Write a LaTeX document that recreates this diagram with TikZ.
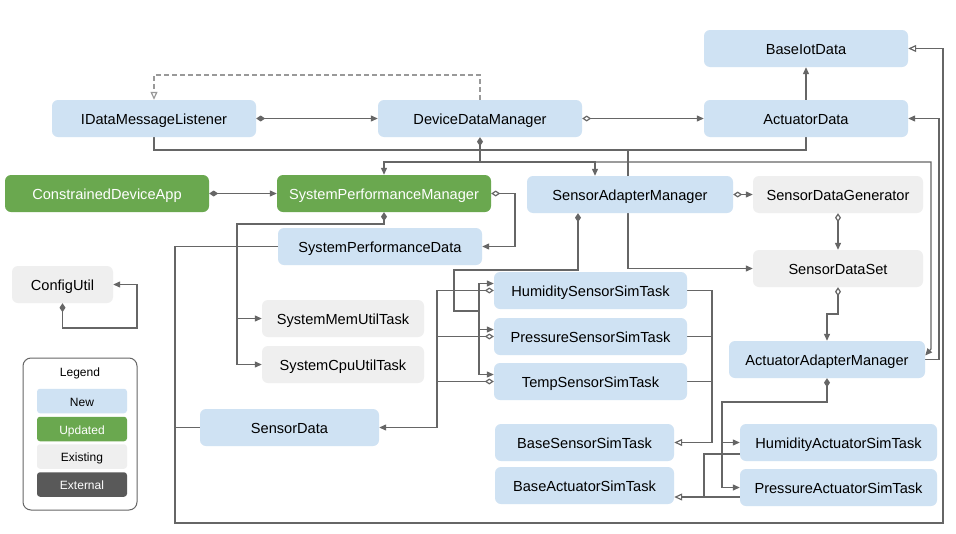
\documentclass[tikz,border=0pt]{standalone}
\usepackage{fontspec}
\setmainfont{Liberation Sans}
\usetikzlibrary{arrows.meta}
\definecolor{nb}{HTML}{CFE2F3}
\definecolor{ug}{HTML}{6AA84F}
\definecolor{ex}{HTML}{EFEFEF}
\definecolor{xt}{HTML}{595959}
\definecolor{ln}{HTML}{666666}
\definecolor{lnl}{HTML}{999999}
\pgfdeclarelayer{bg}
\pgfsetlayers{bg,main}
\tikzset{
  box/.style={rounded corners=6pt, minimum height=37pt, inner sep=0pt, text height=12.5pt, text depth=0.5pt, font=\fontsize{14.6}{17}\selectfont, text=black},
  newb/.style={box, fill=nb},
  updb/.style={box, fill=ug, text=white},
  exb/.style={box, fill=ex},
  lgb/.style={rounded corners=3pt, minimum width=90pt, minimum height=24.5pt, inner sep=0pt, text height=10.5pt, text depth=0.5pt, font=\fontsize{12}{14}\selectfont},
  con/.style={draw=ln, line width=1.2pt},
  dmfa/.style={arrows={Diamond[length=9pt,width=6pt]-Triangle[length=7pt,width=6pt]}},
  dmoa/.style={arrows={Diamond[open,length=9pt,width=6pt]-Triangle[length=7pt,width=6pt]}},
  dmo/.style={arrows={Diamond[open,length=9pt,width=6pt]-}},
  ta/.style={arrows={-Triangle[length=7pt,width=6pt]}},
  ot/.style={arrows={-Triangle[open,length=8pt,width=7pt]}},
}
\begin{document}
\begin{tikzpicture}[x=1pt,y=-1pt]
\useasboundingbox (0,0) rectangle (956,533);
% nodes
\node[newb,minimum width=204pt] (biot) at (806,48.5) {BaseIotData};
\node[newb,minimum width=204pt] (idml) at (154,118.5) {IDataMessageListener};
\node[newb,minimum width=204pt] (dmm) at (480,118.5) {DeviceDataManager};
\node[newb,minimum width=204pt] (ad) at (806,118.5) {ActuatorData};
\node[updb,minimum width=204pt] (cda) at (107,193.5) {ConstrainedDeviceApp};
\node[updb,minimum width=214pt] (spm) at (384,193.5) {SystemPerformanceManager};
\node[newb,minimum width=206pt] (sam) at (630,194.5) {SensorAdapterManager};
\node[exb,minimum width=170pt] (sdg) at (838,194.5) {SensorDataGenerator};
\node[newb,minimum width=204pt] (spd) at (380,246.5) {SystemPerformanceData};
\node[exb,minimum width=170pt] (sds) at (838,268.5) {SensorDataSet};
\node[exb,minimum width=101pt] (cu) at (62.5,284.5) {ConfigUtil};
\node[newb,minimum width=193pt] (hsst) at (590.5,290.5) {HumiditySensorSimTask};
\node[exb,minimum width=162pt] (smu) at (343,318.5) {SystemMemUtilTask};
\node[newb,minimum width=193pt] (psst) at (590.5,336.5) {PressureSensorSimTask};
\node[exb,minimum width=162pt] (scu) at (343,364.5) {SystemCpuUtilTask};
\node[newb,minimum width=196pt] (aam) at (827,359.5) {ActuatorAdapterManager};
\node[newb,minimum width=193pt] (tsst) at (590.5,381.5) {TempSensorSimTask};
\node[newb,minimum width=179pt] (sd) at (289.5,427.5) {SensorData};
\node[newb,minimum width=179pt] (bsst) at (584.5,442.5) {BaseSensorSimTask};
\node[newb,minimum width=197pt] (hast) at (838.5,442.5) {HumidityActuatorSimTask};
\node[newb,minimum width=179pt] (bast) at (584.5,485.5) {BaseActuatorSimTask};
\node[newb,minimum width=197pt] (past) at (838.5,487.5) {PressureActuatorSimTask};
% legend
\node[draw=ln, line width=1pt, rounded corners=8pt, minimum width=114pt, minimum height=152pt, inner sep=0pt] (leg) at (80,434) {};
\node[font=\fontsize{12}{14}\selectfont, inner sep=0pt, text height=10.5pt, text depth=0.5pt] (legt) at (80,371.5) {Legend};
\node[lgb, fill=nb] (l1) at (82,401) {New};
\node[lgb, fill=ug, text=white] (l2) at (82,429) {Updated};
\node[lgb, fill=ex] (l3) at (82,456.5) {Existing};
\node[lgb, fill=xt, text=white] (l4) at (82,484.5) {External};
% junctions
\coordinate (j1) at (480,162);
\coordinate (j2) at (628,150);
\coordinate (j3) at (175,427.5);
\coordinate (j4) at (237,318.5);
\coordinate (j5) at (479,311);
\coordinate (j6) at (479,329.5);
\coordinate (j7) at (437,336.5);
\coordinate (j8) at (437,381.5);
\coordinate (j9) at (712,336.5);
\coordinate (j10) at (712,381.5);
\coordinate (j11) at (722,442.5);
\coordinate (j12) at (704,497);
\begin{pgfonlayer}{bg}
\fill[white] (0,0) rectangle (956,533);
\draw[con,draw=lnl,dash pattern=on 5pt off 3pt,ot] (dmm.north) -- (480,75) -- (154,75) -- (idml.north);
\draw[con,dmfa] (idml.east) -- (dmm.west);
\draw[con,dmoa] (dmm.east) -- (ad.west);
\draw[con,ta] (ad.north) -- (biot.south);
\draw[con] (idml.south) -- (154,150) -- (j2);
\draw[con,ta] (ad.south) -- (806,150) -- (j2) -- (628,268.5) -- (sds.west);
\draw[con,dmfa] (dmm.south) -- (j1) -- (384,162) -- (spm.north);
\draw[con,ta] (j1) -- (595,162) -- ([xshift=-35pt]sam.north);
\draw[con,ta] (j1) -- (931,162) -- (931,349) -- ([yshift=4pt]aam.east);
\draw[con,ta] (aam.east) -- (939,359.5) -- (939,118.5) -- (ad.east);
\draw[con,ot] (spd.west) -- (175,246.5) -- (175,523) -- (943,523) -- (943,48.5) -- (biot.east);
\draw[con] (sd.west) -- (j3);
\draw[con,dmfa] (cda.east) -- (spm.west);
\draw[con,dmoa] (spm.east) -- (515,193.5) -- (515,246.5) -- (spd.east);
\draw[con,dmfa] (spm.south) -- (384,224) -- (237,224) -- (j4) -- (smu.west);
\draw[con,ta] (j4) -- (237,364.5) -- (scu.west);
\draw[con,dmfa] ([xshift=-52pt]sam.south) -- (578,270) -- (454,270) -- (454,311) -- (j5) -- (479,283.5) -- ([yshift=7pt]hsst.west);
\draw[con,ta] (j5) -- (j6) -- ([yshift=7pt]psst.west);
\draw[con,ta] (j6) -- (479,374.5) -- ([yshift=7pt]tsst.west);
\draw[con,dmoa] (hsst.west) -- (437,290.5) -- (437,427.5) -- (sd.east);
\draw[con,dmo] (psst.west) -- (j7);
\draw[con,dmo] (tsst.west) -- (j8);
\draw[con,ot] (hsst.east) -- (712,290.5) -- (712,442.5) -- (bsst.east);
\draw[con] (psst.east) -- (j9);
\draw[con] (tsst.east) -- (j10);
\draw[con,dmfa] (aam.south) -- (827,402) -- (722,402) -- (j11) -- (hast.west);
\draw[con,ta] (j11) -- (722,487.5) -- (past.west);
\draw[con] ([yshift=-11.5pt]hast.west) -- (704,454) -- (j12);
\draw[con,ot] ([yshift=-9.5pt]past.west) -- ([yshift=-11.5pt]bast.east);
\draw[con,dmoa] (sam.east) -- (sdg.west);
\draw[con,dmoa] (sdg.south) -- (sds.north);
\draw[con,dmoa] (sds.south) -- (838,314) -- (827,314) -- (aam.north);
\draw[con,dmfa] (cu.south) -- (62.5,328) -- (137,328) -- (137,284.5) -- (cu.east);
\end{pgfonlayer}
\end{tikzpicture}
\end{document}
